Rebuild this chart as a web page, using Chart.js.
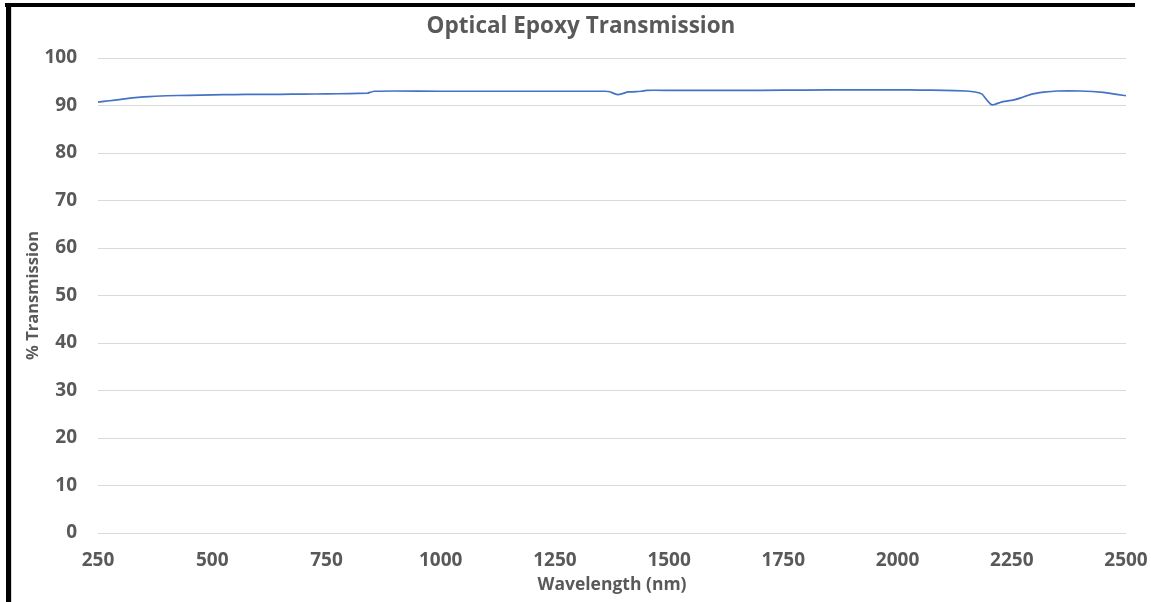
<!DOCTYPE html>
<html>
<head>
<meta charset="utf-8">
<script src="https://cdn.jsdelivr.net/npm/chart.js@4.4.1/dist/chart.umd.min.js"></script>
<style>
  html, body { margin: 0; padding: 0; background: #ffffff; overflow: hidden; }
  #wrap { position: relative; width: 1151px; height: 602px; }
  #c { position: absolute; left: 0; top: 0; }
  .bar { position: absolute; background: #000; }
</style>
</head>
<body>
<div id="wrap">
  <canvas id="c" width="1151" height="602"></canvas>
  <div class="bar" style="left:5px; top:3px; width:1130px; height:4px;"></div>
  <div class="bar" style="left:6px; top:3px; width:5px; height:599px;"></div>
  <div style="position:absolute; left:11px; top:7px; width:1px; height:595px; background:#d9d9d9;"></div>
</div>
<script>
const chartTitle = "Optical Epoxy Transmission";
const xAxisTitle = "Wavelength (nm)";
const yAxisTitle = "% Transmission";

const wavelengths = [250, 275, 300, 325, 350, 375, 400, 450, 500, 550, 600, 650, 700, 750, 800, 840, 845, 855, 900,
  1000, 1100, 1200, 1300, 1360, 1370, 1380, 1388, 1398, 1410, 1440, 1450, 1500, 1600, 1700, 1800, 1900, 2000,
  2050, 2100, 2150, 2170, 2185, 2195, 2205, 2212, 2230, 2255, 2270, 2290, 2320, 2350, 2400, 2450, 2500];
const transmission = [90.7, 91.0, 91.3, 91.6, 91.8, 91.95, 92.05, 92.15, 92.25, 92.3, 92.35, 92.35, 92.4, 92.45, 92.5, 92.6, 92.75, 93.0, 93.05,
  93.0, 93.0, 93.0, 93.0, 93.0, 92.9, 92.5, 92.3, 92.5, 92.85, 93.0, 93.2, 93.2, 93.2, 93.2, 93.25, 93.3, 93.3,
  93.25, 93.2, 93.05, 92.85, 92.4, 91.2, 90.2, 90.2, 90.8, 91.2, 91.6, 92.3, 92.8, 93.05, 93.05, 92.75, 92.05];

const xMin = 250, xMax = 2500, xStep = 250;
const yMin = 0, yMax = 100, yStep = 10;

const textColor = '#595959';
const fontFamily = '"Open Sans", "Liberation Sans", sans-serif';

new Chart(document.getElementById('c'), {
  type: 'line',
  data: {
    datasets: [{
      data: wavelengths.map((w, i) => ({ x: w, y: transmission[i] })),
      borderColor: '#4472C4',
      borderWidth: 1.7,
      pointRadius: 0,
      tension: 0.1,
      fill: false
    }]
  },
  options: {
    responsive: false,
    animation: false,
    devicePixelRatio: 1,
    layout: { padding: { left: 36, right: 25, top: 0, bottom: 0 } },
    plugins: {
      legend: { display: false },
      tooltip: { enabled: false },
      title: {
        display: true,
        text: chartTitle,
        color: textColor,
        font: { family: fontFamily, size: 22.5, weight: 'bold', lineHeight: 1.2 },
        padding: { top: 13, bottom: 18 }
      }
    },
    scales: {
      x: {
        type: 'linear',
        min: xMin, max: xMax,
        afterBuildTicks: (s) => {
          const t = [];
          for (let v = xMin; v <= xMax; v += xStep) t.push({ value: v });
          s.ticks = t;
        },
        afterFit: (s) => { s.height = 69; s.paddingLeft = 0; s.paddingRight = 0; },
        grid: { display: false, drawTicks: false },
        border: { display: false },
        ticks: {
          color: textColor,
          padding: 16,
          maxRotation: 0,
          callback: (v) => String(v),
          font: { family: fontFamily, size: 19, weight: 'bold' }
        },
        title: {
          display: true,
          text: xAxisTitle,
          color: textColor,
          font: { family: fontFamily, size: 17.5, weight: 'bold', lineHeight: 1.2 },
          padding: { top: 0, bottom: 6 }
        }
      },
      y: {
        min: yMin, max: yMax,
        ticks: {
          stepSize: yStep,
          color: textColor,
          padding: 21,
          callback: (v) => String(v),
          font: { family: fontFamily, size: 19, weight: 'bold' }
        },
        afterFit: (s) => { s.width = 62; s.paddingTop = 0; s.paddingBottom = 0; },
        grid: { color: '#d9d9d9', lineWidth: 1, drawTicks: false },
        border: { display: false },
        title: {
          display: true,
          text: yAxisTitle,
          color: textColor,
          font: { family: fontFamily, size: 16.5, weight: 'bold', lineHeight: 1.2 },
          padding: { top: -13, bottom: 0 }
        }
      }
    }
  }
});
</script>
</body>
</html>
